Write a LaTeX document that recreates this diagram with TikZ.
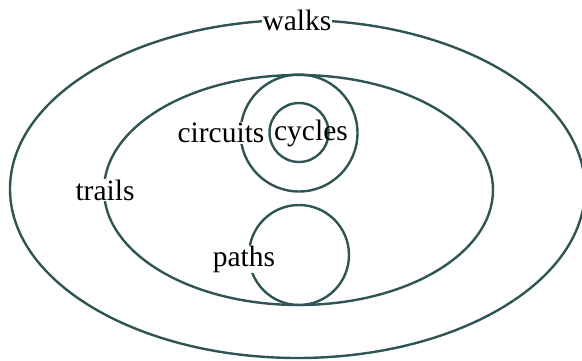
\documentclass[tikz,border=0pt]{standalone}
\usepackage{fontspec}
\setmainfont{Liberation Serif}
\begin{document}
\begin{tikzpicture}[x=1pt,y=1pt,
  setline/.style={draw=setcol, line width=2.4pt},
  lbl/.style={font=\fontsize{29.5}{34}\selectfont, inner sep=1pt, text=black},
  lblw/.style={lbl, fill=white}]
\definecolor{setcol}{HTML}{2F5454}
\useasboundingbox (0,0) rectangle (582,360);
\clip (0,0) rectangle (582,360);
\draw[setline] (297.5,171) ellipse [x radius=287.5, y radius=169];
\draw[setline] (298.5,170) ellipse [x radius=194.5, y radius=115];
\draw[setline] (299,227) circle [radius=58.5];
\draw[setline] (299,227.5) circle [radius=29.5];
\draw[setline] (299,105) circle [radius=50];
\node[lblw] (walks) at (297,340) {walks};
\node[lblw] (trails) at (105,170) {trails};
\node[lblw] (circuits) at (221,227) {circuits};
\node[lbl] (cycles) at (311,227) {cycles};
\node[lblw] (paths) at (244,101) {paths};
\end{tikzpicture}
\end{document}
